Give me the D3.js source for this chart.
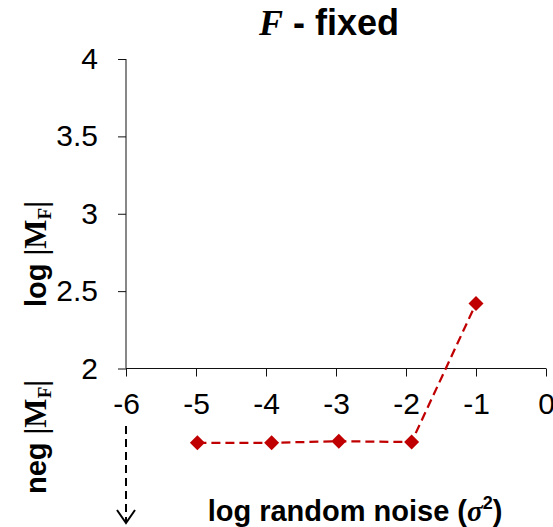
<!DOCTYPE html>
<html><head><meta charset="utf-8">
<script src="https://cdn.jsdelivr.net/npm/d3@7"></script>
<style>body{margin:0;background:#fff}svg{display:block}</style>
</head><body>
<script>
const xTicks = [-6, -5, -4, -3, -2, -1, 0];
const yTicks = [2, 2.5, 3, 3.5, 4];
const noiseLog = [-4.98, -3.92, -2.96, -1.92, -1.0];
const logMF = [1.52, 1.52, 1.53, 1.525, 2.42];

const W = 553, H = 527;
const svg = d3.select("body").append("svg").attr("width", W).attr("height", H);
const x = d3.scaleLinear().domain([-6, 0]).range([126, 546]);
const y = d3.scaleLinear().domain([2, 4]).range([368.5, 59]);
const sans = "'Liberation Sans', Arial, sans-serif";
const serif = "'Liberation Serif', 'Times New Roman', serif";

// y axis
const ya = svg.append("g").attr("transform", `translate(${x(-6)},0)`)
  .call(d3.axisLeft(y).tickValues(yTicks).tickSize(8).tickPadding(20).tickFormat(d => String(d)));
ya.select(".domain").attr("d", `M0,${y(4)}V${y(2)}`).attr("stroke", "#111");
ya.selectAll(".tick line").attr("stroke", "#111");
ya.selectAll(".tick text").attr("font-family", sans).attr("font-size", 30).attr("fill", "#000");

// x axis
const xa = svg.append("g").attr("transform", `translate(0,${y(2)})`)
  .call(d3.axisBottom(x).tickValues(xTicks).tickSize(8).tickPadding(16).tickFormat(d => String(d)));
xa.select(".domain").attr("d", `M${x(-6)},0H${x(0)}`).attr("stroke", "#111");
xa.selectAll(".tick line").attr("stroke", "#111");
xa.selectAll(".tick text").attr("font-family", sans).attr("font-size", 30).attr("fill", "#000");

// data line
const pts = noiseLog.map((v, i) => [x(v), y(logMF[i])]);
svg.append("path").attr("d", d3.line()(pts)).attr("fill", "none")
  .attr("stroke", "#C00000").attr("stroke-width", 2.25).attr("stroke-dasharray", "9,5");
svg.selectAll(".pt").data(pts).enter().append("path")
  .attr("transform", d => `translate(${d[0]},${d[1]})`)
  .attr("d", "M0,-7.5L7.5,0L0,7.5L-7.5,0Z")
  .attr("fill", "#C00000");

// dashed arrow
const ax = x(-6);
svg.append("path").attr("d", `M${ax},426V522`).attr("stroke", "#000").attr("stroke-width", 2).attr("stroke-dasharray", "8,5").attr("fill", "none");
svg.append("path").attr("d", `M${ax-9},510L${ax},523L${ax+9},510`).attr("stroke", "#000").attr("stroke-width", 2).attr("fill", "none");

// title
const t = svg.append("text").attr("x", 329).attr("y", 35).attr("text-anchor", "middle")
  .attr("font-family", sans).attr("font-weight", "bold").attr("font-size", 36);
t.append("tspan").attr("font-family", serif).attr("font-style", "italic").text("F");
t.append("tspan").text(" - fixed");

// y labels
function ylab(word, cy) {
  const g = svg.append("text").attr("transform", `translate(46,${cy}) rotate(-90)`).attr("text-anchor", "middle")
    .attr("font-family", sans).attr("font-weight", "bold").attr("font-size", 29);
  g.append("tspan").text(word + " ");
  g.append("tspan").attr("font-family", serif).attr("font-size", 31).text("|M");
  g.append("tspan").attr("font-family", serif).attr("font-size", 19).attr("dy", 5).text("F");
  g.append("tspan").attr("font-family", serif).attr("font-size", 31).attr("dy", -5).text("|");
}
ylab("log", 254);
ylab("neg", 437);

// x label
const xl = svg.append("text").attr("x", 355).attr("y", 521).attr("text-anchor", "middle")
  .attr("font-family", sans).attr("font-weight", "bold").attr("font-size", 29);
xl.append("tspan").text("log random noise (");
xl.append("tspan").attr("font-family", serif).attr("font-style", "italic").text("σ");
xl.append("tspan").attr("font-size", 18).attr("dy", -12).text("2");
xl.append("tspan").attr("dy", 12).text(")");
</script>
</body></html>
